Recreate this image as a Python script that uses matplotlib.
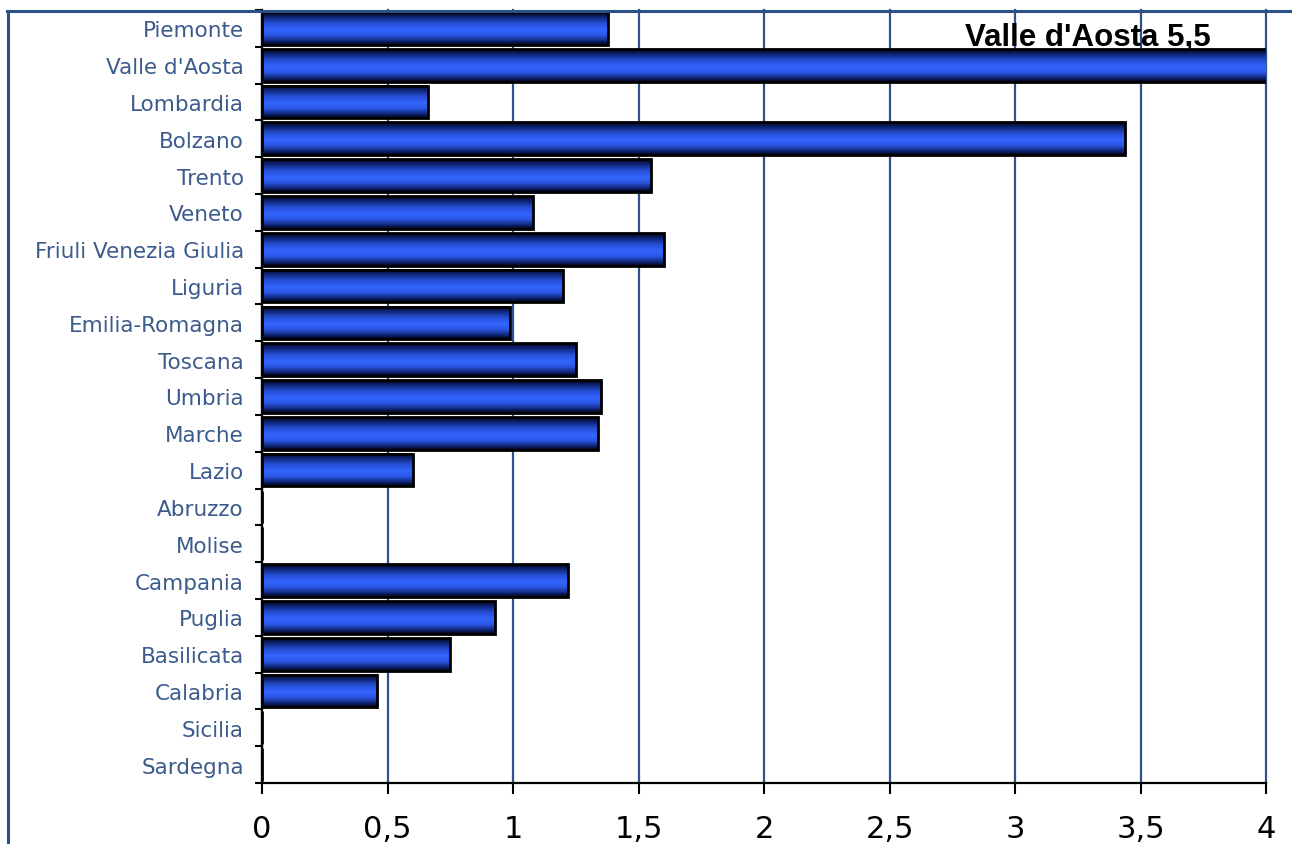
import numpy as np
import matplotlib
matplotlib.use("Agg")
import matplotlib.pyplot as plt
from matplotlib.colors import LinearSegmentedColormap
from matplotlib.lines import Line2D

regions = ["Piemonte", "Valle d'Aosta", "Lombardia", "Bolzano", "Trento", "Veneto",
           "Friuli Venezia Giulia", "Liguria", "Emilia-Romagna", "Toscana", "Umbria",
           "Marche", "Lazio", "Abruzzo", "Molise", "Campania", "Puglia", "Basilicata",
           "Calabria", "Sicilia", "Sardegna"]
values = [1.38, 5.5, 0.66, 3.44, 1.55, 1.08, 1.60, 1.20, 0.99, 1.25, 1.35,
          1.34, 0.60, 0.0, 0.0, 1.22, 0.93, 0.75, 0.46, 0.0, 0.0]
xticks = [0, 0.5, 1, 1.5, 2, 2.5, 3, 3.5, 4]
xticklabels = ["0", "0,5", "1", "1,5", "2", "2,5", "3", "3,5", "4"]
annotation = "Valle d'Aosta 5,5"

W, H = 1292, 845
fig = plt.figure(figsize=(W / 100, H / 100), dpi=100)
ax = fig.add_axes([262 / W, 1 - 784 / H, (1266 - 262) / W, (784 - 11) / H])

n = len(regions)
ypos = np.arange(n)
bars = ax.barh(ypos, values, height=0.89, facecolor="none", edgecolor="black",
               linewidth=2.0, zorder=4)

cmap = LinearSegmentedColormap.from_list(
    "bar3d",
    [(0.0, "#000010"), (0.12, "#0b1f66"), (0.35, "#2750d8"), (0.55, "#3366ff"),
     (0.72, "#2a55e0"), (0.88, "#10277a"), (1.0, "#000010")])
grad = np.linspace(0, 1, 64).reshape(-1, 1)
for rect, v in zip(bars.patches, values):
    if v <= 0:
        continue
    x0, y0 = rect.get_x(), rect.get_y()
    w, h = rect.get_width(), rect.get_height()
    im = ax.imshow(grad, extent=[x0, x0 + w, y0 + h, y0], aspect="auto",
                   cmap=cmap, interpolation="bicubic", zorder=3)
    im.set_clip_path(rect)
    im.set_clip_box(ax.bbox)

ax.set_xlim(0, 4)
ax.set_ylim(n - 0.5, -0.5)

ax.set_xticks(xticks)
ax.set_xticklabels(xticklabels, fontsize=22, color="black")
ax.set_yticks(ypos)
ax.set_yticklabels(regions, fontsize=15.5, color="#3b5b8c")
ax.set_yticks(np.arange(n + 1) - 0.5, minor=True)
ax.tick_params(axis="y", which="major", length=0, pad=13)
ax.tick_params(axis="y", which="minor", length=5, width=1.5, color="black", direction="out")
ax.tick_params(axis="x", which="major", length=8, width=1.5, color="black", pad=14)

ax.grid(axis="x", color="#2f528f", linewidth=1.6, zorder=1)
for gl in ax.get_xgridlines():
    gl.set_clip_on(False)
ax.set_axisbelow(True)
for s in ["top", "right"]:
    ax.spines[s].set_visible(False)
for s in ["left", "bottom"]:
    ax.spines[s].set_color("black")
    ax.spines[s].set_linewidth(1.6)
    ax.spines[s].set_zorder(5)

ax.text(3.29, 0.45, annotation, ha="center", va="baseline", fontsize=22.5,
        fontweight="bold", family="Liberation Sans", color="black", zorder=6)

# figure border (top and left)
fig.add_artist(Line2D([6.5 / W, 1], [1 - 11.5 / H, 1 - 11.5 / H], color="#2c5189",
                      linewidth=2.2, transform=fig.transFigure))
fig.add_artist(Line2D([7.5 / W, 7.5 / W], [0, 1 - 11.5 / H], color="#2c5189",
                      linewidth=2.2, transform=fig.transFigure))

fig.savefig("out.png", dpi=100)
